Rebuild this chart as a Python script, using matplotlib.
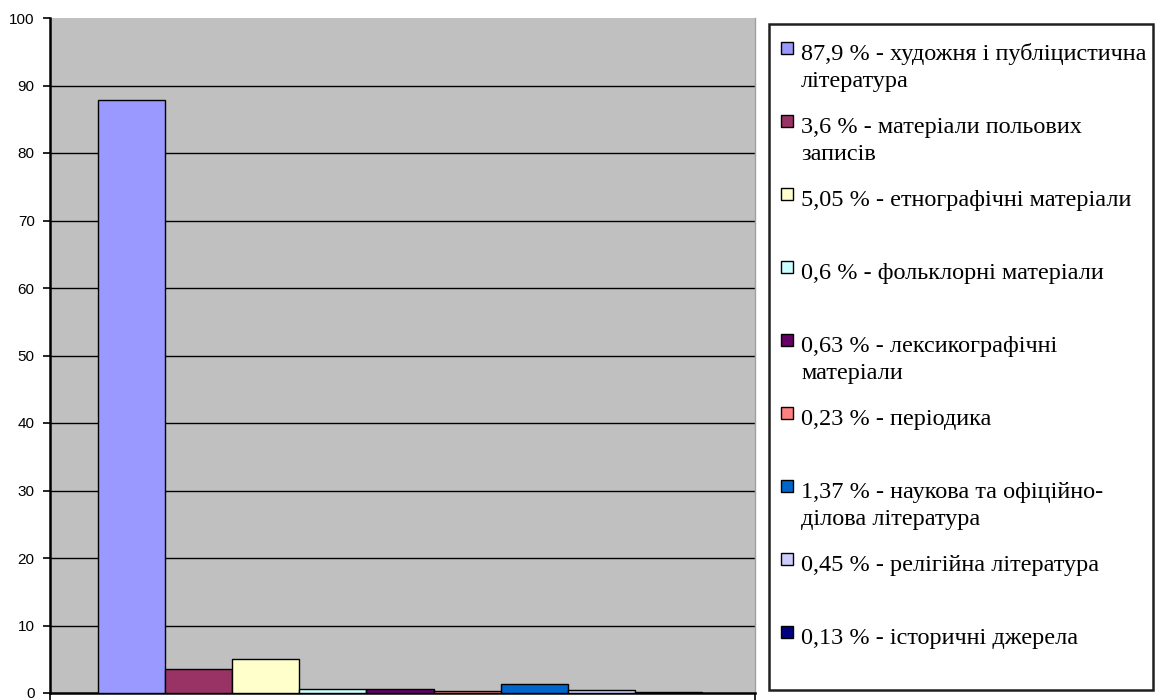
import matplotlib
matplotlib.use("Agg")
import matplotlib.pyplot as plt
import numpy as np
from matplotlib.patches import Rectangle

values = [87.9, 3.6, 5.05, 0.6, 0.63, 0.23, 1.37, 0.45, 0.13]
colors = ["#9999FF", "#993366", "#FFFFCC", "#CCFFFF", "#660066",
          "#FF8080", "#0066CC", "#CCCCFF", "#000080"]
labels = [
    "87,9 % - художня і публіцистична\nлітература",
    "3,6 % - матеріали польових\nзаписів",
    "5,05 % - етнографічні матеріали",
    "0,6 % - фольклорні матеріали",
    "0,63 % - лексикографічні\nматеріали",
    "0,23 % - періодика",
    "1,37 % - наукова та офіційно-\nділова література",
    "0,45 % - релігійна література",
    "0,13 % - історичні джерела",
]
yticks = [0, 10, 20, 30, 40, 50, 60, 70, 80, 90, 100]

W, H = 1159, 700
fig = plt.figure(figsize=(W / 100, H / 100), dpi=100)
fig.patch.set_facecolor("white")
ax = fig.add_axes([50 / W, 7 / H, 705 / W, 675 / H])
ax.set_facecolor("#C0C0C0")

x = np.arange(len(values))
ax.bar(x, values, width=1.0, color=colors, edgecolor="black", linewidth=1.0, zorder=3)

xl, xr = -1.215, 9.29
ax.set_xlim(xl, xr)
ax.set_ylim(0, 100)
ax.set_yticks(yticks)
ax.set_yticklabels([str(v) for v in yticks], fontfamily="Liberation Sans", fontsize=11)
ax.set_xticks([xl, xr])
ax.set_xticklabels([])
ax.tick_params(axis="both", direction="out", length=5, width=1.2, color="black", pad=6)
for yv in yticks[1:-1]:
    ax.axhline(yv, color="black", linewidth=1.0, zorder=1)
ax.spines["top"].set_visible(False)
ax.spines["right"].set_color("#A0A0A0")
ax.spines["right"].set_linewidth(1.0)
ax.spines["left"].set_linewidth(1.8)
ax.spines["bottom"].set_linewidth(1.8)

# legend box
fig.patches.append(Rectangle((769 / W, 1 - 690 / H), (1153 - 769) / W, (690 - 24) / H,
                             transform=fig.transFigure, facecolor="white",
                             edgecolor="#202020", linewidth=1.8, zorder=1))
for k, (lab, col) in enumerate(zip(labels, colors)):
    base = 60 + 73 * k
    fig.patches.append(Rectangle((781 / W, 1 - (base - 6) / H), 12 / W, 12 / H,
                                 transform=fig.transFigure, facecolor=col,
                                 edgecolor="black", linewidth=1.0, zorder=2))
    for i, line in enumerate(lab.split("\n")):
        fig.text(801 / W, 1 - (base + 27.5 * i) / H, line, fontfamily="Liberation Serif",
                 fontsize=17.5, va="baseline", ha="left", color="black", zorder=3)

fig.savefig("out.png", dpi=100)
